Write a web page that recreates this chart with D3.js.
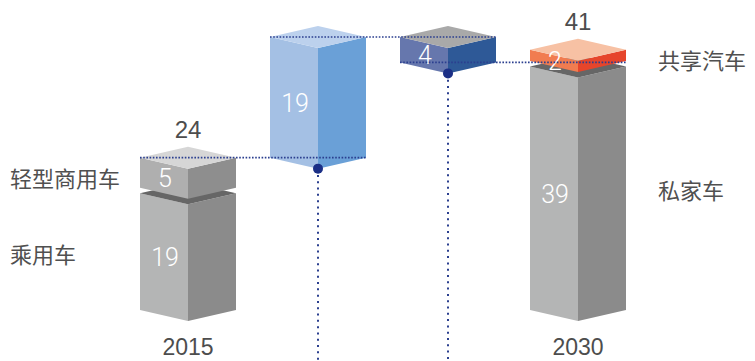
<!DOCTYPE html>
<html><head><meta charset="utf-8">
<script src="https://cdn.jsdelivr.net/npm/d3@7"></script>
<style>body{margin:0;background:#fff}svg{display:block}</style>
</head><body>
<script>
// ---- data ----
const steps = ["2015", "增量", "减量", "2030"];
const segNames2015 = ["乘用车", "轻型商用车"];
const segValues2015 = [19, 5];
const deltaValues = [19, -4];
const segNames2030 = ["私家车", "共享汽车"];
const segValues2030 = [39, 2];
const yearLabels = ["2015", "2030"];
const axisMax = 43;

// ---- styles ----
const W = 755, H = 361;
const halfW = 48, depth = 11;
const pal = {
  gray:    {left: "#b4b5b5", right: "#8b8b8b", top: "#d6d6d6"},
  grayCap: {left: "#afafaf", right: "#8e8e8e", top: "#d6d6d6"},
  blue:    {left: "#a4c0e4", right: "#6aa0d7", top: "#bcd1ed"},
  navy:    {left: "#6677ad", right: "#2e5997", top: "#a9a9a9"},
  orange:  {left: "#f17c50", right: "#e6452b", top: "#f7c1a4"},
  shadow: "#666666"
};
const lineColor = "#2b3f8f";

const svg = d3.select("body").append("svg").attr("width", W).attr("height", H);

const x = d3.scalePoint().domain(steps).range([188, 578]);
const y = d3.scaleLinear().domain([0, axisMax]).range([310, 37]);

// build segments
const bars = [];
function addStack(step, values, styles) {
  let acc = 0;
  values.forEach((v, i) => {
    bars.push({step, from: acc, to: acc + v, label: String(v), style: styles[i],
      hasAbove: i < values.length - 1, hasBelow: i > 0});
    acc += v;
  });
  return acc;
}
const total2015 = addStack(steps[0], segValues2015, [pal.gray, pal.grayCap]);
let level = total2015;
const deltaStyles = [pal.blue, pal.navy];
const deltaLevels = [];
deltaValues.forEach((d, i) => {
  const lo = Math.min(level, level + d), hi = Math.max(level, level + d);
  bars.push({step: steps[i + 1], from: lo, to: hi, label: String(Math.abs(d)), style: deltaStyles[i],
    hasAbove: false, hasBelow: false});
  deltaLevels.push({step: steps[i + 1], start: level, end: level + d});
  level += d;
});
const total2030 = addStack(steps[3], segValues2030, [pal.gray, pal.orange]);

// draw bars
const g = svg.append("g");
bars.forEach(b => {
  const xc = x(b.step), xl = xc - halfW, xr = xc + halfW;
  const yt = y(b.to) + (b.hasAbove ? 4 : 0);
  const yb = y(b.from) - (b.hasBelow ? 1.5 : 0);
  const pts = a => a.map(p => p.join(",")).join(" ");
  g.append("polygon").attr("points", pts([[xl, yt], [xc, yt + depth], [xc, yb + depth], [xl, yb]]))
    .attr("fill", b.style.left);
  g.append("polygon").attr("points", pts([[xc, yt + depth], [xr, yt], [xr, yb], [xc, yb + depth]]))
    .attr("fill", b.style.right);
  g.append("polygon").attr("points", pts([[xl, yt], [xc, yt - depth], [xr, yt], [xc, yt + depth]]))
    .attr("fill", b.hasAbove ? pal.shadow : b.style.top);
  b.xl = xl; b.yt = yt; b.yb = yb;
});

// in-bar value labels
bars.forEach(b => {
  const cy = (b.yt + b.yb) / 2 + depth / 2;
  svg.append("text").attr("x", b.xl + 25).attr("y", cy)
    .attr("dy", "0.36em").attr("text-anchor", "middle")
    .attr("font-family", "Roboto, 'Liberation Sans', sans-serif").attr("font-weight", 300)
    .attr("font-size", 25).attr("fill", "#ffffff").text(b.label);
});

// connectors
const lines = svg.append("g").attr("stroke", lineColor).attr("fill", "none");
const cols = [steps[0], steps[1], steps[2], steps[3]];
const connLevels = [total2015, deltaLevels[0].end, deltaLevels[1].end];
connLevels.forEach((lv, i) => {
  lines.append("line")
    .attr("x1", x(cols[i]) - halfW).attr("x2", x(cols[i + 1]) + halfW)
    .attr("y1", y(lv)).attr("y2", y(lv))
    .attr("stroke-width", 1.6).attr("stroke-dasharray", "1.6 1.6");
});
deltaLevels.forEach(d => {
  const lo = Math.min(d.start, d.end);
  const cy = y(lo) + depth;
  lines.append("line").attr("x1", x(d.step)).attr("x2", x(d.step))
    .attr("y1", cy).attr("y2", H)
    .attr("stroke-width", 2).attr("stroke-dasharray", "2 4.3");
  svg.append("circle").attr("cx", x(d.step)).attr("cy", cy).attr("r", 5).attr("fill", "#1b2f86");
});

// totals above
[[steps[0], total2015], [steps[3], total2030]].forEach(([s, t]) => {
  svg.append("text").attr("x", x(s)).attr("y", y(t) - depth - 9)
    .attr("text-anchor", "middle").attr("font-family", "'Liberation Sans', Arial, sans-serif")
    .attr("font-size", 24).attr("fill", "#4d4d4d").text(t);
});

// year labels
[steps[0], steps[3]].forEach((s, i) => {
  svg.append("text").attr("x", x(s)).attr("y", 355)
    .attr("text-anchor", "middle").attr("font-family", "'Liberation Sans', Arial, sans-serif")
    .attr("font-size", 23).attr("fill", "#4d4d4d").text(yearLabels[i]);
});

// category labels
const cjk = "'Noto Sans CJK SC', sans-serif";
let acc = 0;
segValues2015.forEach((v, i) => {
  const mid = acc + v / 2; acc += v;
  svg.append("text").attr("x", 10).attr("y", y(mid) + 13)
    .attr("font-family", cjk).attr("font-size", 22).attr("fill", "#505050").text(segNames2015[i]);
});
acc = 0;
segValues2030.forEach((v, i) => {
  const mid = acc + v / 2; acc += v;
  svg.append("text").attr("x", 658).attr("y", y(mid) + 13)
    .attr("font-family", cjk).attr("font-size", 22).attr("fill", "#505050").text(segNames2030[i]);
});
</script>
</body></html>
